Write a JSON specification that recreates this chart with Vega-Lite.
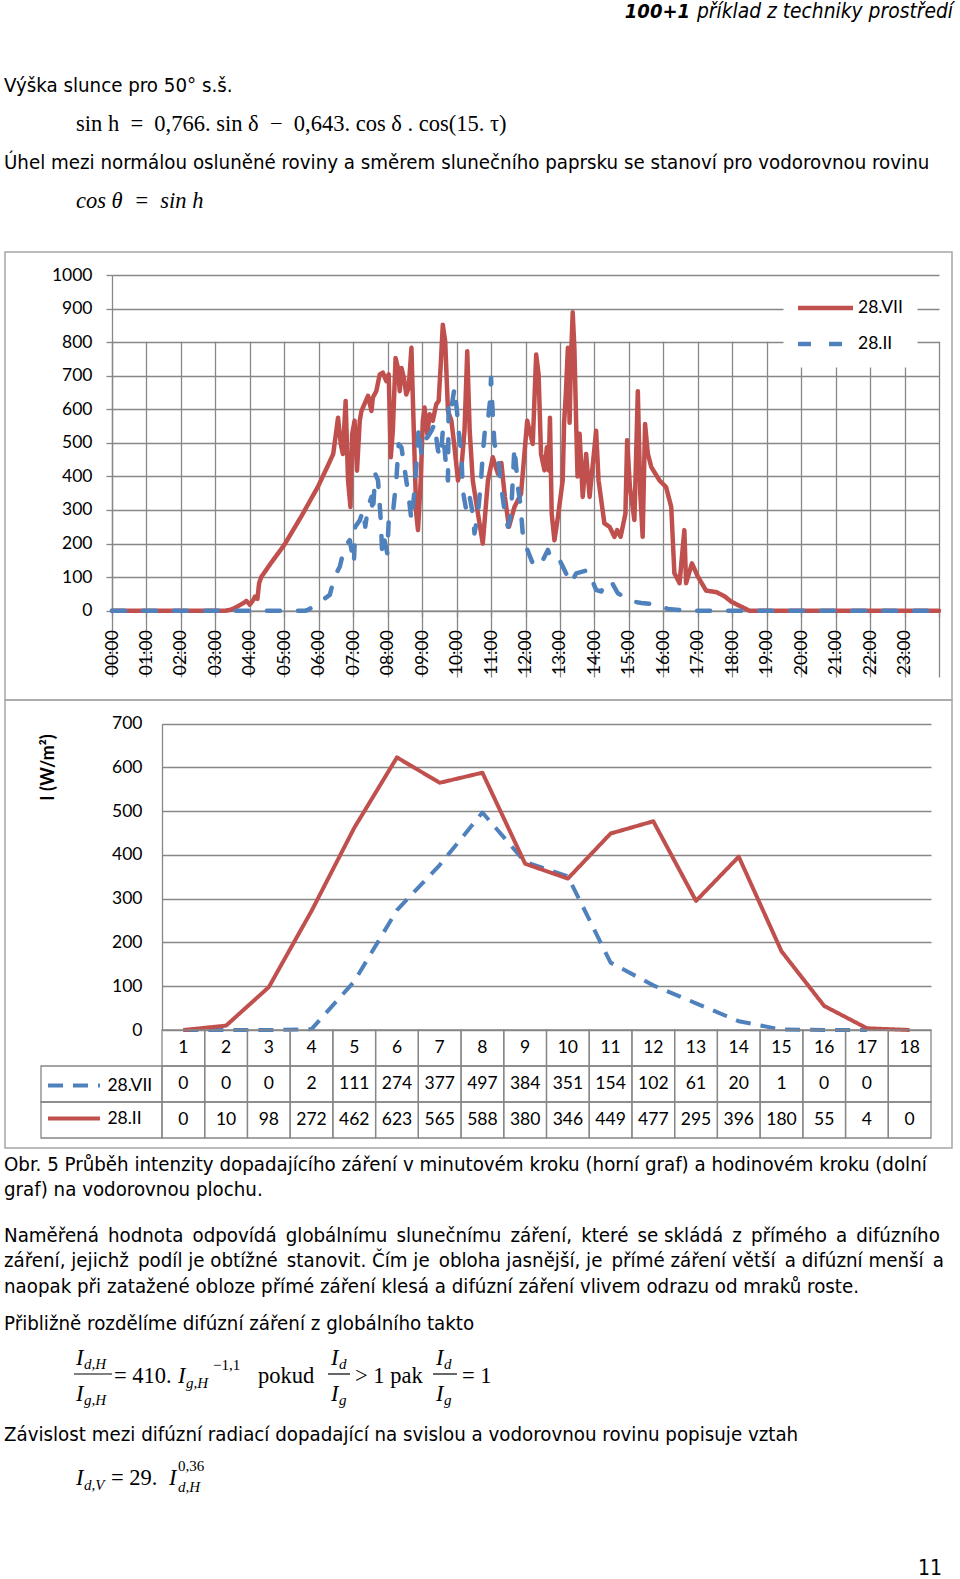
{
"$schema":"https://vega.github.io/schema/vega-lite/v6.json",
"background":"white",
"padding":{"left":4,"top":0,"right":0,"bottom":0},
"spacing":0,
"bounds":"flush",
"config":{"view":{"stroke":null}},
"resolve":{"scale":{"x":"independent","y":"independent","color":"independent","strokeDash":"independent"},"legend":{"color":"independent","strokeDash":"independent"}},
"datasets":{
"minute":[
{"t":0,"s":"28.VII","v":0},{"t":3.3,"s":"28.VII","v":0},{"t":3.45,"s":"28.VII","v":3},{"t":3.6,"s":"28.VII","v":10},{"t":3.8,"s":"28.VII","v":22},{"t":3.9,"s":"28.VII","v":29},{"t":4.0,"s":"28.VII","v":18},{"t":4.1,"s":"28.VII","v":32},{"t":4.15,"s":"28.VII","v":42},{"t":4.22,"s":"28.VII","v":35},{"t":4.27,"s":"28.VII","v":82},{"t":4.33,"s":"28.VII","v":100},{"t":4.6,"s":"28.VII","v":140},{"t":5.0,"s":"28.VII","v":196},{"t":5.5,"s":"28.VII","v":282},{"t":5.98,"s":"28.VII","v":370},{"t":6.3,"s":"28.VII","v":440},{"t":6.42,"s":"28.VII","v":467},{"t":6.56,"s":"28.VII","v":575},{"t":6.64,"s":"28.VII","v":496},{"t":6.7,"s":"28.VII","v":467},{"t":6.78,"s":"28.VII","v":625},{"t":6.85,"s":"28.VII","v":388},{"t":6.92,"s":"28.VII","v":309},{"t":6.97,"s":"28.VII","v":526},{"t":7.04,"s":"28.VII","v":566},{"t":7.11,"s":"28.VII","v":417},{"t":7.19,"s":"28.VII","v":566},{"t":7.24,"s":"28.VII","v":595},{"t":7.43,"s":"28.VII","v":640},{"t":7.53,"s":"28.VII","v":595},{"t":7.57,"s":"28.VII","v":635},{"t":7.67,"s":"28.VII","v":654},{"t":7.77,"s":"28.VII","v":704},{"t":7.86,"s":"28.VII","v":709},{"t":7.96,"s":"28.VII","v":684},{"t":8.03,"s":"28.VII","v":704},{"t":8.09,"s":"28.VII","v":457},{"t":8.15,"s":"28.VII","v":536},{"t":8.23,"s":"28.VII","v":753},{"t":8.3,"s":"28.VII","v":723},{"t":8.35,"s":"28.VII","v":654},{"t":8.4,"s":"28.VII","v":723},{"t":8.47,"s":"28.VII","v":694},{"t":8.54,"s":"28.VII","v":644},{"t":8.61,"s":"28.VII","v":664},{"t":8.69,"s":"28.VII","v":783},{"t":8.73,"s":"28.VII","v":635},{"t":8.83,"s":"28.VII","v":289},{"t":8.88,"s":"28.VII","v":240},{"t":8.96,"s":"28.VII","v":388},{"t":9.02,"s":"28.VII","v":566},{"t":9.07,"s":"28.VII","v":605},{"t":9.15,"s":"28.VII","v":526},{"t":9.22,"s":"28.VII","v":585},{"t":9.31,"s":"28.VII","v":566},{"t":9.41,"s":"28.VII","v":615},{"t":9.48,"s":"28.VII","v":625},{"t":9.54,"s":"28.VII","v":733},{"t":9.6,"s":"28.VII","v":852},{"t":9.67,"s":"28.VII","v":802},{"t":9.75,"s":"28.VII","v":595},{"t":9.85,"s":"28.VII","v":566},{"t":9.94,"s":"28.VII","v":487},{"t":10.04,"s":"28.VII","v":388},{"t":10.14,"s":"28.VII","v":427},{"t":10.23,"s":"28.VII","v":536},{"t":10.31,"s":"28.VII","v":773},{"t":10.38,"s":"28.VII","v":536},{"t":10.47,"s":"28.VII","v":388},{"t":10.62,"s":"28.VII","v":289},{"t":10.76,"s":"28.VII","v":200},{"t":10.91,"s":"28.VII","v":388},{"t":11.05,"s":"28.VII","v":457},{"t":11.2,"s":"28.VII","v":408},{"t":11.3,"s":"28.VII","v":440},{"t":11.4,"s":"28.VII","v":340},{"t":11.52,"s":"28.VII","v":250},{"t":11.68,"s":"28.VII","v":309},{"t":11.87,"s":"28.VII","v":348},{"t":12.05,"s":"28.VII","v":566},{"t":12.21,"s":"28.VII","v":497},{"t":12.31,"s":"28.VII","v":763},{"t":12.38,"s":"28.VII","v":704},{"t":12.45,"s":"28.VII","v":467},{"t":12.55,"s":"28.VII","v":418},{"t":12.62,"s":"28.VII","v":487},{"t":12.67,"s":"28.VII","v":418},{"t":12.71,"s":"28.VII","v":575},{"t":12.76,"s":"28.VII","v":289},{"t":12.84,"s":"28.VII","v":210},{"t":12.94,"s":"28.VII","v":279},{"t":13.08,"s":"28.VII","v":388},{"t":13.12,"s":"28.VII","v":560},{"t":13.17,"s":"28.VII","v":645},{"t":13.23,"s":"28.VII","v":783},{"t":13.28,"s":"28.VII","v":560},{"t":13.32,"s":"28.VII","v":750},{"t":13.37,"s":"28.VII","v":889},{"t":13.42,"s":"28.VII","v":780},{"t":13.47,"s":"28.VII","v":560},{"t":13.51,"s":"28.VII","v":400},{"t":13.57,"s":"28.VII","v":527},{"t":13.66,"s":"28.VII","v":339},{"t":13.76,"s":"28.VII","v":467},{"t":13.86,"s":"28.VII","v":339},{"t":14.05,"s":"28.VII","v":536},{"t":14.12,"s":"28.VII","v":388},{"t":14.29,"s":"28.VII","v":260},{"t":14.44,"s":"28.VII","v":250},{"t":14.58,"s":"28.VII","v":220},{"t":14.66,"s":"28.VII","v":240},{"t":14.76,"s":"28.VII","v":220},{"t":14.9,"s":"28.VII","v":289},{"t":14.95,"s":"28.VII","v":508},{"t":15.03,"s":"28.VII","v":368},{"t":15.16,"s":"28.VII","v":270},{"t":15.26,"s":"28.VII","v":654},{"t":15.33,"s":"28.VII","v":350},{"t":15.4,"s":"28.VII","v":220},{"t":15.47,"s":"28.VII","v":556},{"t":15.55,"s":"28.VII","v":468},{"t":15.65,"s":"28.VII","v":428},{"t":15.89,"s":"28.VII","v":388},{"t":16.08,"s":"28.VII","v":368},{"t":16.23,"s":"28.VII","v":309},{"t":16.32,"s":"28.VII","v":112},{"t":16.47,"s":"28.VII","v":82},{"t":16.61,"s":"28.VII","v":240},{"t":16.66,"s":"28.VII","v":82},{"t":16.83,"s":"28.VII","v":141},{"t":17.0,"s":"28.VII","v":102},{"t":17.24,"s":"28.VII","v":60},{"t":17.55,"s":"28.VII","v":55},{"t":17.79,"s":"28.VII","v":42},{"t":17.97,"s":"28.VII","v":27},{"t":18.16,"s":"28.VII","v":17},{"t":18.5,"s":"28.VII","v":0},{"t":24,"s":"28.VII","v":0},
{"t":0,"s":"28.II","v":0},{"t":5.6,"s":"28.II","v":0},{"t":5.68,"s":"28.II","v":2},{"t":5.93,"s":"28.II","v":18},{"t":6.13,"s":"28.II","v":33},{"t":6.32,"s":"28.II","v":47},{"t":6.46,"s":"28.II","v":102},{"t":6.61,"s":"28.II","v":131},{"t":6.75,"s":"28.II","v":190},{"t":6.9,"s":"28.II","v":210},{"t":7.02,"s":"28.II","v":141},{"t":7.06,"s":"28.II","v":250},{"t":7.19,"s":"28.II","v":269},{"t":7.29,"s":"28.II","v":299},{"t":7.35,"s":"28.II","v":250},{"t":7.43,"s":"28.II","v":309},{"t":7.53,"s":"28.II","v":339},{"t":7.57,"s":"28.II","v":289},{"t":7.64,"s":"28.II","v":408},{"t":7.72,"s":"28.II","v":388},{"t":7.8,"s":"28.II","v":269},{"t":7.84,"s":"28.II","v":171},{"t":7.91,"s":"28.II","v":210},{"t":7.99,"s":"28.II","v":171},{"t":8.03,"s":"28.II","v":269},{"t":8.13,"s":"28.II","v":269},{"t":8.2,"s":"28.II","v":339},{"t":8.25,"s":"28.II","v":388},{"t":8.32,"s":"28.II","v":496},{"t":8.4,"s":"28.II","v":487},{"t":8.47,"s":"28.II","v":437},{"t":8.54,"s":"28.II","v":388},{"t":8.61,"s":"28.II","v":339},{"t":8.69,"s":"28.II","v":269},{"t":8.76,"s":"28.II","v":339},{"t":8.83,"s":"28.II","v":427},{"t":8.9,"s":"28.II","v":546},{"t":8.98,"s":"28.II","v":467},{"t":9.05,"s":"28.II","v":506},{"t":9.15,"s":"28.II","v":516},{"t":9.27,"s":"28.II","v":536},{"t":9.36,"s":"28.II","v":556},{"t":9.46,"s":"28.II","v":477},{"t":9.54,"s":"28.II","v":457},{"t":9.6,"s":"28.II","v":536},{"t":9.7,"s":"28.II","v":427},{"t":9.75,"s":"28.II","v":388},{"t":9.77,"s":"28.II","v":625},{"t":9.85,"s":"28.II","v":605},{"t":9.94,"s":"28.II","v":664},{"t":10.02,"s":"28.II","v":585},{"t":10.06,"s":"28.II","v":536},{"t":10.14,"s":"28.II","v":467},{"t":10.18,"s":"28.II","v":358},{"t":10.28,"s":"28.II","v":299},{"t":10.38,"s":"28.II","v":339},{"t":10.47,"s":"28.II","v":289},{"t":10.52,"s":"28.II","v":230},{"t":10.62,"s":"28.II","v":289},{"t":10.71,"s":"28.II","v":388},{"t":10.76,"s":"28.II","v":467},{"t":10.83,"s":"28.II","v":546},{"t":10.91,"s":"28.II","v":566},{"t":10.97,"s":"28.II","v":625},{"t":11.0,"s":"28.II","v":694},{"t":11.05,"s":"28.II","v":585},{"t":11.1,"s":"28.II","v":496},{"t":11.2,"s":"28.II","v":467},{"t":11.27,"s":"28.II","v":388},{"t":11.39,"s":"28.II","v":299},{"t":11.49,"s":"28.II","v":250},{"t":11.58,"s":"28.II","v":289},{"t":11.68,"s":"28.II","v":487},{"t":11.78,"s":"28.II","v":368},{"t":11.85,"s":"28.II","v":319},{"t":11.92,"s":"28.II","v":230},{"t":12.02,"s":"28.II","v":190},{"t":12.21,"s":"28.II","v":141},{"t":12.41,"s":"28.II","v":131},{"t":12.65,"s":"28.II","v":181},{"t":12.75,"s":"28.II","v":151},{"t":12.99,"s":"28.II","v":151},{"t":13.13,"s":"28.II","v":121},{"t":13.32,"s":"28.II","v":82},{"t":13.47,"s":"28.II","v":111},{"t":13.81,"s":"28.II","v":121},{"t":14.05,"s":"28.II","v":62},{"t":14.2,"s":"28.II","v":57},{"t":14.29,"s":"28.II","v":82},{"t":14.49,"s":"28.II","v":87},{"t":14.68,"s":"28.II","v":52},{"t":15.07,"s":"28.II","v":28},{"t":15.36,"s":"28.II","v":23},{"t":15.84,"s":"28.II","v":18},{"t":16.13,"s":"28.II","v":5},{"t":16.71,"s":"28.II","v":0},{"t":24,"s":"28.II","v":0}
],
"hourly":[
{"hour":1,"series":"28.VII","value":0},{"hour":2,"series":"28.VII","value":0},{"hour":3,"series":"28.VII","value":0},{"hour":4,"series":"28.VII","value":2},{"hour":5,"series":"28.VII","value":111},{"hour":6,"series":"28.VII","value":274},{"hour":7,"series":"28.VII","value":377},{"hour":8,"series":"28.VII","value":497},{"hour":9,"series":"28.VII","value":384},{"hour":10,"series":"28.VII","value":351},{"hour":11,"series":"28.VII","value":154},{"hour":12,"series":"28.VII","value":102},{"hour":13,"series":"28.VII","value":61},{"hour":14,"series":"28.VII","value":20},{"hour":15,"series":"28.VII","value":1},{"hour":16,"series":"28.VII","value":0},{"hour":17,"series":"28.VII","value":0},
{"hour":1,"series":"28.II","value":0},{"hour":2,"series":"28.II","value":10},{"hour":3,"series":"28.II","value":98},{"hour":4,"series":"28.II","value":272},{"hour":5,"series":"28.II","value":462},{"hour":6,"series":"28.II","value":623},{"hour":7,"series":"28.II","value":565},{"hour":8,"series":"28.II","value":588},{"hour":9,"series":"28.II","value":380},{"hour":10,"series":"28.II","value":346},{"hour":11,"series":"28.II","value":449},{"hour":12,"series":"28.II","value":477},{"hour":13,"series":"28.II","value":295},{"hour":14,"series":"28.II","value":396},{"hour":15,"series":"28.II","value":180},{"hour":16,"series":"28.II","value":55},{"hour":17,"series":"28.II","value":4},{"hour":18,"series":"28.II","value":0}
]
},
"vconcat":[
{
"width":956,"height":252,
"view":{"stroke":null},
"data":{"values":[{}]},
"layer":[
{"mark":{"type":"text","align":"right","baseline":"middle","font":"DejaVu Sans Condensed, DejaVu Sans","fontSize":20.8,"fontStyle":"italic","color":"black"},"encoding":{"x":{"value":948},"y":{"value":12},"text":{"value":"příklad z techniky prostředí"}}},
{"mark":{"type":"text","align":"right","baseline":"middle","font":"DejaVu Sans Condensed, DejaVu Sans","fontSize":20,"fontStyle":"italic","fontWeight":"bold","color":"black"},"encoding":{"x":{"value":685},"y":{"value":12},"text":{"value":"100+1"}}},
{"mark":{"type":"text","align":"left","baseline":"middle","font":"DejaVu Sans Condensed, DejaVu Sans","fontSize":20.3,"color":"black"},"encoding":{"x":{"value":-1},"y":{"value":86},"text":{"value":"Výška slunce pro 50° s.š."}}},
{"mark":{"type":"text","align":"left","baseline":"middle","font":"Liberation Serif","fontSize":22.5,"color":"black"},"encoding":{"x":{"value":71},"y":{"value":124},"text":{"value":"sin h\u2002=\u20020,766. sin δ\u2002−\u20020,643. cos δ . cos(15. τ)"}}},
{"mark":{"type":"text","align":"left","baseline":"middle","font":"DejaVu Sans Condensed, DejaVu Sans","fontSize":20.3,"color":"black"},"encoding":{"x":{"value":-1},"y":{"value":163},"text":{"value":"Úhel mezi normálou osluněné roviny a směrem slunečního paprsku se stanoví pro vodorovnou rovinu"}}},
{"mark":{"type":"text","align":"left","baseline":"middle","font":"Liberation Serif","fontSize":22.5,"fontStyle":"italic","color":"black"},"encoding":{"x":{"value":71},"y":{"value":201},"text":{"value":"cos θ\u2002=\u2002sin h"}}}
]
},
{
"width":947,"height":448,
"view":{"stroke":"#a6a6a6","strokeWidth":1.5},
"data":{"name":"minute"},
"encoding":{
"x":{"field":"t","type":"quantitative","scale":{"domain":[0,24],"range":[107,934],"nice":false,"zero":false},
"axis":{"values":[0,1,2,3,4,5,6,7,8,9,10,11,12,13,14,15,16,17,18,19,20,21,22,23,24],"labelExpr":"datum.value >= 24 ? '' : (datum.value < 10 ? '0' : '') + datum.value + ':00'","labelAngle":-90,"labelAlign":"right","labelBaseline":"middle","labelPadding":13,"labelFlush":false,"labelOverlap":false,"tickSize":6,"tickColor":"#878787","tickWidth":1.3,"domainColor":"#878787","domainWidth":1.3,"grid":true,"gridColor":"#878787","gridWidth":1.3,"offset":-89.3,"title":null,"labelFont":"Lato","labelFontSize":17.5,"labelColor":"black"}},
"y":{"field":"v","type":"quantitative","scale":{"domain":[0,1000],"range":[358.7,23],"nice":false,"zero":false},
"axis":{"values":[0,100,200,300,400,500,600,700,800,900,1000],"format":"d","offset":-107,"tickSize":6,"labelPadding":14,"labelFlush":false,"tickColor":"#878787","tickWidth":1.3,"domainColor":"#878787","domainWidth":1.3,"grid":true,"gridColor":"#878787","gridWidth":1.3,"title":null,"labelFont":"Lato","labelFontSize":17.5,"labelColor":"black"}},
"color":{"field":"s","type":"nominal","scale":{"domain":["28.VII","28.II"],"range":["#C0504D","#4F81BD"]},
"legend":{"orient":"none","legendX":778.5,"legendY":30.5,"title":null,"symbolType":"M-1.2,0H4.8","symbolSize":336,"symbolStrokeWidth":4.5,"labelOffset":37.5,"rowPadding":15,"padding":14,"fillColor":"white","labelFont":"Lato","labelFontSize":17.5,"labelColor":"black"}},
"strokeDash":{"field":"s","type":"nominal","scale":{"domain":["28.VII","28.II"],"range":[[1,0],[13,18]]},
"legend":{"orient":"none","legendX":778.5,"legendY":30.5,"title":null,"symbolType":"M-1.2,0H4.8","symbolSize":336,"symbolStrokeWidth":4.5,"labelOffset":37.5,"rowPadding":15,"padding":14,"fillColor":"white","labelFont":"Lato","labelFontSize":17.5,"labelColor":"black"}}
},
"layer":[
{"transform":[{"filter":"datum.s === '28.VII'"}],"mark":{"type":"line","strokeWidth":4.5,"strokeJoin":"round","strokeCap":"round"}},
{"transform":[{"filter":"datum.s === '28.II'"}],"mark":{"type":"line","strokeWidth":4.5,"strokeJoin":"round","strokeCap":"round"}}
]
},
{
"width":947,"height":448,
"view":{"stroke":"#a6a6a6","strokeWidth":1.5},
"data":{"name":"hourly"},
"encoding":{"x":{"field":"hour","type":"ordinal","scale":{"type":"band","domain":[1,2,3,4,5,6,7,8,9,10,11,12,13,14,15,16,17,18],"range":[157,926],"paddingInner":0,"paddingOuter":0},"axis":null}},
"layer":[
{
"encoding":{
"y":{"field":"value","type":"quantitative","scale":{"domain":[0,700],"range":[330,23.7],"nice":false,"zero":false},
"axis":{"values":[0,100,200,300,400,500,600,700],"format":"d","offset":-157,"ticks":false,"tickSize":0,"labelPadding":20,"labelFlush":false,"domainColor":"#878787","domainWidth":1.3,"grid":true,"gridColor":"#878787","gridWidth":1.3,"labelFont":"Lato","labelFontSize":17.5,"labelColor":"black","title":"I (W/m²)","titleFont":"Lato","titleFontSize":18,"titleFontWeight":"bold","titleColor":"black","titleX":-114,"titleY":67,"titleAngle":270,"titleBaseline":"middle","titleAlign":"center"}},
"color":{"field":"series","type":"nominal","scale":{"domain":["28.VII","28.II"],"range":["#4F81BD","#C0504D"]},
"legend":{"orient":"none","legendX":42.4,"legendY":374.5,"title":null,"symbolType":"M-1.2,0H4.8","symbolSize":300,"symbolStrokeWidth":4,"labelOffset":38,"rowPadding":13,"padding":0,"labelFont":"Lato","labelFontSize":17.5,"labelColor":"black"}},
"strokeDash":{"field":"series","type":"nominal","scale":{"domain":["28.VII","28.II"],"range":[[15,10],[1,0]]},
"legend":{"orient":"none","legendX":42.4,"legendY":374.5,"title":null,"symbolType":"M-1.2,0H4.8","symbolSize":300,"symbolStrokeWidth":4,"labelOffset":38,"rowPadding":13,"padding":0,"labelFont":"Lato","labelFontSize":17.5,"labelColor":"black"}}
},
"layer":[
{"transform":[{"filter":"datum.series === '28.VII'"}],"mark":{"type":"line","strokeWidth":4,"strokeJoin":"round"}},
{"transform":[{"filter":"datum.series === '28.II'"}],"mark":{"type":"line","strokeWidth":4,"strokeJoin":"round"}}
]
},
{
"layer":[
{"transform":[{"filter":"datum.series === '28.II'"}],"mark":{"type":"rect","filled":false,"stroke":"#878787","strokeWidth":1.3},
"encoding":{"y":{"datum":"hdr","type":"nominal","scale":{"type":"band","domain":["hdr","28.VII","28.II"],"range":[330,438],"paddingInner":0,"paddingOuter":0},"axis":null}}},
{"transform":[{"filter":"datum.series === '28.II'"}],"mark":{"type":"rect","filled":false,"stroke":"#878787","strokeWidth":1.3},
"encoding":{"y":{"datum":"28.VII","type":"nominal","scale":{"type":"band"},"axis":null}}},
{"transform":[{"filter":"datum.series === '28.II'"}],"mark":{"type":"rect","filled":false,"stroke":"#878787","strokeWidth":1.3},
"encoding":{"y":{"datum":"28.II","type":"nominal","scale":{"type":"band"},"axis":null}}},
{"transform":[{"filter":"datum.hour === 1"}],"mark":{"type":"rect","filled":false,"stroke":"#878787","strokeWidth":1.3},
"encoding":{"x":{"value":36},"x2":{"value":157},"y":{"field":"series","type":"nominal","scale":{"type":"band"},"axis":null}}},
{"transform":[{"filter":"datum.series === '28.II'"}],"mark":{"type":"text","baseline":"middle","align":"center","font":"Lato","fontSize":17.5,"color":"black"},
"encoding":{"y":{"datum":"hdr","type":"nominal","scale":{"type":"band"},"axis":null},"text":{"field":"hour","type":"nominal"}}},
{"transform":[{"filter":"isValid(datum.value)"}],"mark":{"type":"text","baseline":"middle","align":"center","font":"Lato","fontSize":17.5,"color":"black"},
"encoding":{"y":{"field":"series","type":"nominal","scale":{"type":"band"},"axis":null},"text":{"field":"value","type":"nominal"}}}
]
}
],
"resolve":{"scale":{"y":"independent"}}
},
{
"width":956,"height":431,
"view":{"stroke":null},
"data":{"values":[{}]},
"layer":[
{"mark":{"type":"text","align":"left","baseline":"middle","font":"DejaVu Sans Condensed, DejaVu Sans","fontSize":20.3,"color":"black"},"encoding":{"x":{"value":-1},"y":{"value":16.5},"text":{"value":"Obr. 5 Průběh intenzity dopadajícího záření v minutovém kroku (horní graf) a hodinovém kroku (dolní"}}},
{"mark":{"type":"text","align":"left","baseline":"middle","font":"DejaVu Sans Condensed, DejaVu Sans","fontSize":20.3,"color":"black"},"encoding":{"x":{"value":-1},"y":{"value":42},"text":{"value":"graf) na vodorovnou plochu."}}},
{"mark":{"type":"text","align":"left","baseline":"middle","font":"DejaVu Sans Condensed, DejaVu Sans","fontSize":20.3,"color":"black"},"encoding":{"x":{"value":-1},"y":{"value":88},"text":{"value":"Naměřená\u2002hodnota\u2002odpovídá\u2002globálnímu\u2002slunečnímu\u2002záření,\u2002které\u2002se skládá\u2002z\u2002přímého\u2002a\u2002difúzního"}}},
{"mark":{"type":"text","align":"left","baseline":"middle","font":"DejaVu Sans Condensed, DejaVu Sans","fontSize":20.3,"color":"black"},"encoding":{"x":{"value":-1},"y":{"value":113},"text":{"value":"záření, jejichž\u2002podíl je obtížné\u2002stanovit. Čím je\u2002obloha jasnější, je\u2002přímé záření větší\u2002a difúzní menší\u2002a"}}},
{"mark":{"type":"text","align":"left","baseline":"middle","font":"DejaVu Sans Condensed, DejaVu Sans","fontSize":20.3,"color":"black"},"encoding":{"x":{"value":-1},"y":{"value":138.5},"text":{"value":"naopak při zatažené obloze přímé záření klesá a difúzní záření vlivem odrazu od mraků roste."}}},
{"mark":{"type":"text","align":"left","baseline":"middle","font":"DejaVu Sans Condensed, DejaVu Sans","fontSize":20.3,"color":"black"},"encoding":{"x":{"value":-1},"y":{"value":176},"text":{"value":"Přibližně rozdělíme difúzní záření z globálního takto"}}},
{"mark":{"type":"text","align":"left","baseline":"middle","font":"Liberation Serif","fontSize":22.5,"fontStyle":"italic","color":"black"},"encoding":{"x":{"value":71},"y":{"value":210},"text":{"value":"I"}}},
{"mark":{"type":"text","align":"left","baseline":"middle","font":"Liberation Serif","fontSize":15,"fontStyle":"italic","color":"black"},"encoding":{"x":{"value":79},"y":{"value":216},"text":{"value":"d,H"}}},
{"mark":{"type":"rule","stroke":"black","strokeWidth":1.2},"encoding":{"x":{"value":69},"x2":{"value":107},"y":{"value":226}}},
{"mark":{"type":"text","align":"left","baseline":"middle","font":"Liberation Serif","fontSize":22.5,"fontStyle":"italic","color":"black"},"encoding":{"x":{"value":71},"y":{"value":246},"text":{"value":"I"}}},
{"mark":{"type":"text","align":"left","baseline":"middle","font":"Liberation Serif","fontSize":15,"fontStyle":"italic","color":"black"},"encoding":{"x":{"value":79},"y":{"value":252},"text":{"value":"g,H"}}},
{"mark":{"type":"text","align":"left","baseline":"middle","font":"Liberation Serif","fontSize":22.5,"color":"black"},"encoding":{"x":{"value":109},"y":{"value":228},"text":{"value":"= 410."}}},
{"mark":{"type":"text","align":"left","baseline":"middle","font":"Liberation Serif","fontSize":22.5,"fontStyle":"italic","color":"black"},"encoding":{"x":{"value":173},"y":{"value":228},"text":{"value":"I"}}},
{"mark":{"type":"text","align":"left","baseline":"middle","font":"Liberation Serif","fontSize":15,"fontStyle":"italic","color":"black"},"encoding":{"x":{"value":181},"y":{"value":235},"text":{"value":"g,H"}}},
{"mark":{"type":"text","align":"left","baseline":"middle","font":"Liberation Serif","fontSize":15,"color":"black"},"encoding":{"x":{"value":208},"y":{"value":217},"text":{"value":"−1,1"}}},
{"mark":{"type":"text","align":"left","baseline":"middle","font":"Liberation Serif","fontSize":22.5,"color":"black"},"encoding":{"x":{"value":253},"y":{"value":228},"text":{"value":"pokud"}}},
{"mark":{"type":"text","align":"left","baseline":"middle","font":"Liberation Serif","fontSize":22.5,"fontStyle":"italic","color":"black"},"encoding":{"x":{"value":326},"y":{"value":210},"text":{"value":"I"}}},
{"mark":{"type":"text","align":"left","baseline":"middle","font":"Liberation Serif","fontSize":15,"fontStyle":"italic","color":"black"},"encoding":{"x":{"value":334},"y":{"value":216},"text":{"value":"d"}}},
{"mark":{"type":"rule","stroke":"black","strokeWidth":1.2},"encoding":{"x":{"value":323},"x2":{"value":345},"y":{"value":226}}},
{"mark":{"type":"text","align":"left","baseline":"middle","font":"Liberation Serif","fontSize":22.5,"fontStyle":"italic","color":"black"},"encoding":{"x":{"value":326},"y":{"value":246},"text":{"value":"I"}}},
{"mark":{"type":"text","align":"left","baseline":"middle","font":"Liberation Serif","fontSize":15,"fontStyle":"italic","color":"black"},"encoding":{"x":{"value":334},"y":{"value":252},"text":{"value":"g"}}},
{"mark":{"type":"text","align":"left","baseline":"middle","font":"Liberation Serif","fontSize":22.5,"color":"black"},"encoding":{"x":{"value":350},"y":{"value":228},"text":{"value":"> 1 pak"}}},
{"mark":{"type":"text","align":"left","baseline":"middle","font":"Liberation Serif","fontSize":22.5,"fontStyle":"italic","color":"black"},"encoding":{"x":{"value":431},"y":{"value":210},"text":{"value":"I"}}},
{"mark":{"type":"text","align":"left","baseline":"middle","font":"Liberation Serif","fontSize":15,"fontStyle":"italic","color":"black"},"encoding":{"x":{"value":439},"y":{"value":216},"text":{"value":"d"}}},
{"mark":{"type":"rule","stroke":"black","strokeWidth":1.2},"encoding":{"x":{"value":428},"x2":{"value":452},"y":{"value":226}}},
{"mark":{"type":"text","align":"left","baseline":"middle","font":"Liberation Serif","fontSize":22.5,"fontStyle":"italic","color":"black"},"encoding":{"x":{"value":431},"y":{"value":246},"text":{"value":"I"}}},
{"mark":{"type":"text","align":"left","baseline":"middle","font":"Liberation Serif","fontSize":15,"fontStyle":"italic","color":"black"},"encoding":{"x":{"value":439},"y":{"value":252},"text":{"value":"g"}}},
{"mark":{"type":"text","align":"left","baseline":"middle","font":"Liberation Serif","fontSize":22.5,"color":"black"},"encoding":{"x":{"value":457},"y":{"value":228},"text":{"value":"= 1"}}},
{"mark":{"type":"text","align":"left","baseline":"middle","font":"DejaVu Sans Condensed, DejaVu Sans","fontSize":20.3,"color":"black"},"encoding":{"x":{"value":-1},"y":{"value":287},"text":{"value":"Závislost mezi difúzní radiací dopadající na svislou a vodorovnou rovinu popisuje vztah"}}},
{"mark":{"type":"text","align":"left","baseline":"middle","font":"Liberation Serif","fontSize":22.5,"fontStyle":"italic","color":"black"},"encoding":{"x":{"value":71},"y":{"value":330},"text":{"value":"I"}}},
{"mark":{"type":"text","align":"left","baseline":"middle","font":"Liberation Serif","fontSize":15,"fontStyle":"italic","color":"black"},"encoding":{"x":{"value":79},"y":{"value":337},"text":{"value":"d,V"}}},
{"mark":{"type":"text","align":"left","baseline":"middle","font":"Liberation Serif","fontSize":22.5,"color":"black"},"encoding":{"x":{"value":106},"y":{"value":330},"text":{"value":"= 29."}}},
{"mark":{"type":"text","align":"left","baseline":"middle","font":"Liberation Serif","fontSize":22.5,"fontStyle":"italic","color":"black"},"encoding":{"x":{"value":164},"y":{"value":330},"text":{"value":"I"}}},
{"mark":{"type":"text","align":"left","baseline":"middle","font":"Liberation Serif","fontSize":15,"color":"black"},"encoding":{"x":{"value":173},"y":{"value":318},"text":{"value":"0,36"}}},
{"mark":{"type":"text","align":"left","baseline":"middle","font":"Liberation Serif","fontSize":15,"fontStyle":"italic","color":"black"},"encoding":{"x":{"value":173},"y":{"value":339},"text":{"value":"d,H"}}},
{"mark":{"type":"text","align":"right","baseline":"middle","font":"DejaVu Sans Condensed, DejaVu Sans","fontSize":21,"color":"black"},"encoding":{"x":{"value":937},"y":{"value":421},"text":{"value":"11"}}}
]
}
]
}
